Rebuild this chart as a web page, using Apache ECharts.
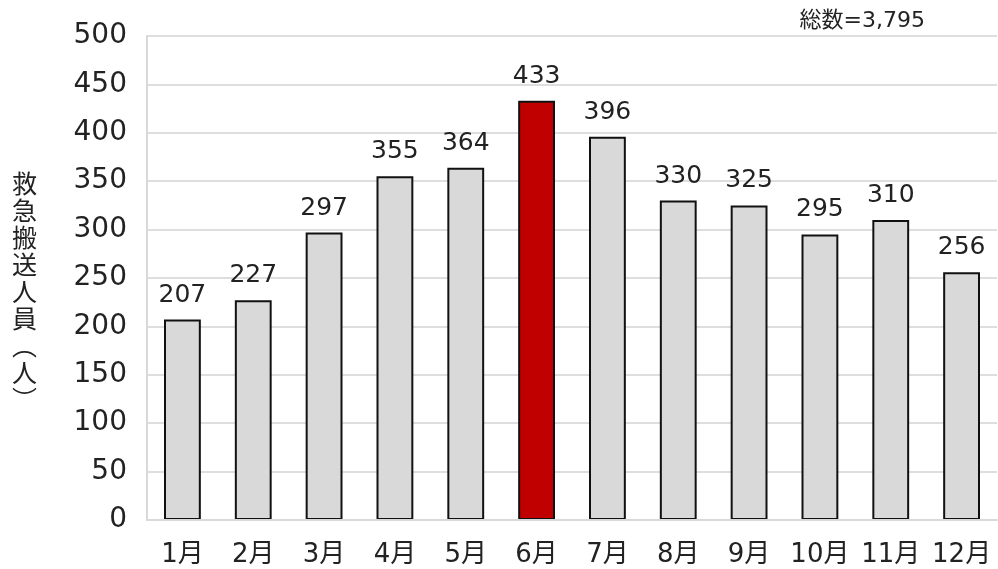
<!DOCTYPE html>
<html>
<head>
<meta charset="utf-8">
<script src="https://cdn.jsdelivr.net/npm/echarts@6/dist/echarts.min.js"></script>
<style>
  html, body { margin: 0; padding: 0; background: #fff; }
  #chart { width: 998px; height: 569px; }
</style>
</head>
<body>
<div id="chart"></div>
<script>
// Monthly emergency transport counts
const months = ['1月', '2月', '3月', '4月', '5月', '6月', '7月', '8月', '9月', '10月', '11月', '12月'];
const counts = [207, 227, 297, 355, 364, 433, 396, 330, 325, 295, 310, 256];
const highlightMonth = '6月';
const totalLabel = '総数=3,795';
const yAxisTitle = '救急搬送人員︵人︶';
const yTicks = { min: 0, max: 500, interval: 50 };

const FONT = "'DejaVu Sans', 'Noto Sans CJK JP', sans-serif";

const barData = counts.map((v, i) => ({
  value: v,
  itemStyle: {
    color: months[i] === highlightMonth ? '#c00000' : '#d9d9d9'
  }
}));

const chart = echarts.init(document.getElementById('chart'), null, { renderer: 'canvas' });
chart.setOption({
  backgroundColor: '#ffffff',
  animation: false,
  title: {
    text: totalLabel,
    right: 68,
    top: 5,
    textStyle: { fontFamily: FONT, fontSize: 22, fontWeight: 'normal', color: '#222' }
  },
  // vertical axis title, one character per line
  graphic: [{
    type: 'text',
    left: 12,
    top: 170,
    style: {
      text: yAxisTitle.split('').join('\n'),
      fontFamily: "'Noto Sans CJK JP', sans-serif",
      fontSize: 25,
      lineHeight: 27,
      fill: '#222',
      align: 'left'
    }
  }],
  grid: { left: 147, right: 1, top: 36, bottom: 49 },
  xAxis: {
    type: 'category',
    data: months,
    z: 5,
    axisLine: { show: true, lineStyle: { color: '#d9d9d9', width: 2 } },
    axisTick: { show: false },
    axisLabel: {
      interval: 0,
      margin: 22,
      fontFamily: FONT,
      fontSize: 26,
      color: '#222'
    }
  },
  yAxis: {
    type: 'value',
    min: yTicks.min,
    max: yTicks.max,
    interval: yTicks.interval,
    axisLine: { show: true, lineStyle: { color: '#d9d9d9', width: 2 } },
    axisTick: { show: false },
    splitLine: { lineStyle: { color: '#dedede', width: 2 } },
    axisLabel: {
      margin: 20,
      fontFamily: FONT,
      fontSize: 28,
      color: '#222'
    }
  },
  series: [{
    type: 'bar',
    data: barData,
    barWidth: '52%',
    itemStyle: { borderColor: '#111', borderWidth: 2 },
    label: {
      show: true,
      position: 'top',
      distance: 12,
      fontFamily: FONT,
      fontSize: 25,
      color: '#222'
    }
  }]
});
</script>
</body>
</html>
